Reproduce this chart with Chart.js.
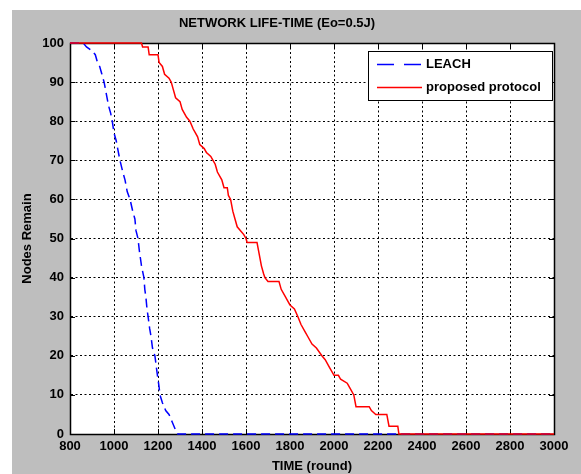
<!DOCTYPE html>
<html><head><meta charset="utf-8">
<script src="https://cdn.jsdelivr.net/npm/chart.js@4.4.1/dist/chart.umd.min.js"></script>
<style>html,body{margin:0;padding:0;background:#fff;overflow:hidden}canvas{display:block}</style>
</head><body><canvas id="c" width="581" height="474"></canvas>
<script>
const chartTitle = 'NETWORK LIFE-TIME (Eo=0.5J)';
const xTitle = 'TIME (round)';
const yTitle = 'Nodes Remain';
const seriesNames = ['LEACH', 'proposed protocol'];
const xTicks = [800,1000,1200,1400,1600,1800,2000,2200,2400,2600,2800,3000];
const yTicks = [0,10,20,30,40,50,60,70,80,90,100];

const leachRounds = [800,860,875,900,915,925,935,945,955,965,975,985,992,1000,1010,1020,1027,1040,1050,1060,1073,1085,1095,1100,1109,1115,1125,1136,1140,1145,1150,1155,1162,1168,1175,1186,1195,1200,1205,1209,1220,1235,1250,1265,1280,1290,3000];
const leachNodes  = [100,100,99,98,97,95,94,92,90,87,84,82,80,77,75,72,70,67,65,62,60,57,55,52,50,47,43,40,37,35,32,30,27,25,22,20,16,14,12,10,8,6,5,3,1,0,0];

const propRounds = [800,1125,1130,1155,1160,1200,1205,1220,1230,1250,1260,1270,1280,1300,1310,1330,1345,1360,1370,1380,1390,1410,1420,1440,1450,1460,1470,1490,1500,1515,1520,1530,1540,1550,1560,1575,1590,1600,1605,1650,1660,1670,1680,1686,1700,1750,1760,1780,1790,1800,1820,1836,1850,1870,1880,1900,1920,1945,1960,1980,2000,2020,2030,2060,2070,2090,2100,2160,2170,2190,2240,2250,2290,2295,3000];
const propNodes  = [100,100,99,99,97,97,95,94,92,91,90,88,86,85,83,81,80,78,77,76,74,73,72,71,70,69,67,65,63,63,61,60,57,55,53,52,51,50,49,49,46,43,41,40,39,39,37,35,34,33,32,30,28,26,25,23,22,20,19,17,15,15,14,13,12,10,7,7,6,5,5,2,2,0,0];

const toPts = (xs, ys) => xs.map((x, i) => ({x, y: ys[i]}));
const FONT = '"Liberation Sans", Arial, sans-serif';

const bgPlugin = {
  id: 'bg',
  beforeDraw(chart) {
    const ctx = chart.ctx;
    ctx.save();
    ctx.fillStyle = '#ffffff';
    ctx.fillRect(0, 0, chart.width, chart.height);
    ctx.fillStyle = '#bebebe';
    ctx.fillRect(12, 10, chart.width - 12, chart.height - 10);
    const a = chart.chartArea;
    ctx.fillStyle = '#ffffff';
    ctx.fillRect(a.left, a.top, a.right - a.left, a.bottom - a.top);
    ctx.restore();
  }
};

const boxPlugin = {
  id: 'box',
  beforeDatasetsDraw(chart) {
    const ctx = chart.ctx;
    const a = chart.chartArea;
    const xs = chart.scales.x, ys = chart.scales.y;
    ctx.save();
    ctx.strokeStyle = '#000';
    ctx.lineWidth = 1;
    ctx.setLineDash([]);
    ctx.beginPath();
    xTicks.forEach(v => {
      const p = Math.round(xs.getPixelForValue(v)) + 0.5;
      ctx.moveTo(p, a.bottom); ctx.lineTo(p, a.bottom - 5);
      ctx.moveTo(p, a.top); ctx.lineTo(p, a.top + 5);
    });
    yTicks.forEach(v => {
      const p = Math.round(ys.getPixelForValue(v)) + 0.5;
      ctx.moveTo(a.left, p); ctx.lineTo(a.left + 5, p);
      ctx.moveTo(a.right, p); ctx.lineTo(a.right - 5, p);
    });
    ctx.stroke();
    ctx.lineWidth = 1.5;
    ctx.strokeRect(Math.round(a.left) + 0.5, Math.round(a.top) + 0.5, Math.round(a.right - a.left), Math.round(a.bottom - a.top));
    ctx.restore();
  },
  afterDatasetsDraw(chart) {
    const ctx = chart.ctx;
    ctx.save();
    const lx = 368, ly = 51, lw = 184, lh = 49;
    ctx.fillStyle = '#fff';
    ctx.fillRect(lx, ly, lw, lh);
    ctx.lineWidth = 1;
    ctx.strokeStyle = '#000';
    ctx.strokeRect(lx + 0.5, ly + 0.5, lw, lh);
    ctx.font = 'bold 13px ' + FONT;
    ctx.textBaseline = 'middle';
    ctx.textAlign = 'left';
    const rows = [64, 87];
    chart.data.datasets.forEach((ds, i) => {
      const y = rows[i] + 0.5;
      ctx.strokeStyle = ds.borderColor;
      ctx.lineWidth = 1.5;
      ctx.setLineDash(ds.borderDash ? [17, 10] : []);
      ctx.beginPath();
      ctx.moveTo(377, y); ctx.lineTo(422, y);
      ctx.stroke();
      ctx.setLineDash([]);
      ctx.fillStyle = '#000';
      ctx.fillText(ds.label, 426, rows[i]);
    });
    ctx.restore();
  }
};

new Chart(document.getElementById('c'), {
  type: 'line',
  data: {
    datasets: [
      { label: seriesNames[0], data: toPts(leachRounds, leachNodes), borderColor: '#0000ff', borderWidth: 1.5, borderDash: [9,5], pointRadius: 0, tension: 0, fill: false, order: 1, clip: 2 },
      { label: seriesNames[1], data: toPts(propRounds, propNodes), borderColor: '#ff0000', borderWidth: 1.5, pointRadius: 0, tension: 0, fill: false, order: 0, clip: 2 }
    ]
  },
  options: {
    responsive: false,
    animation: false,
    devicePixelRatio: 1,
    layout: { padding: { left: 0, right: 27, top: 10, bottom: 0 } },
    plugins: {
      legend: { display: false },
      tooltip: { enabled: false },
      title: { display: true, text: chartTitle, color: '#000', font: { family: FONT, size: 13, weight: 'bold' }, padding: { top: 6, bottom: 11.4 } }
    },
    scales: {
      x: {
        type: 'linear', min: 800, max: 3000,
        afterFit: s => { s.height = 40; },
        afterBuildTicks: s => { s.ticks = xTicks.map(v => ({ value: v })); },
        ticks: { color: '#000', autoSkip: false, maxRotation: 0, padding: 5, callback: v => String(v), font: { family: FONT, size: 13, weight: 'bold' } },
        grid: { color: '#000', lineWidth: 1, drawTicks: false },
        border: { display: true, color: '#000', dash: [2,2.5] },
        title: { display: true, text: xTitle, color: '#000', padding: { top: 0, bottom: 0 }, font: { family: FONT, size: 13, weight: 'bold' } }
      },
      y: {
        type: 'linear', min: 0, max: 100,
        afterFit: s => { s.width = 70; },
        afterBuildTicks: s => { s.ticks = yTicks.map(v => ({ value: v })); },
        ticks: { color: '#000', autoSkip: false, padding: 6, callback: v => String(v), font: { family: FONT, size: 13, weight: 'bold' } },
        grid: { color: '#000', lineWidth: 1, drawTicks: false },
        border: { display: true, color: '#000', dash: [2,2.5] },
        title: { display: true, text: yTitle, color: '#000', padding: { top: 20, bottom: 0 }, font: { family: FONT, size: 13, weight: 'bold' } }
      }
    }
  },
  plugins: [bgPlugin, boxPlugin]
});
</script>
</body></html>
